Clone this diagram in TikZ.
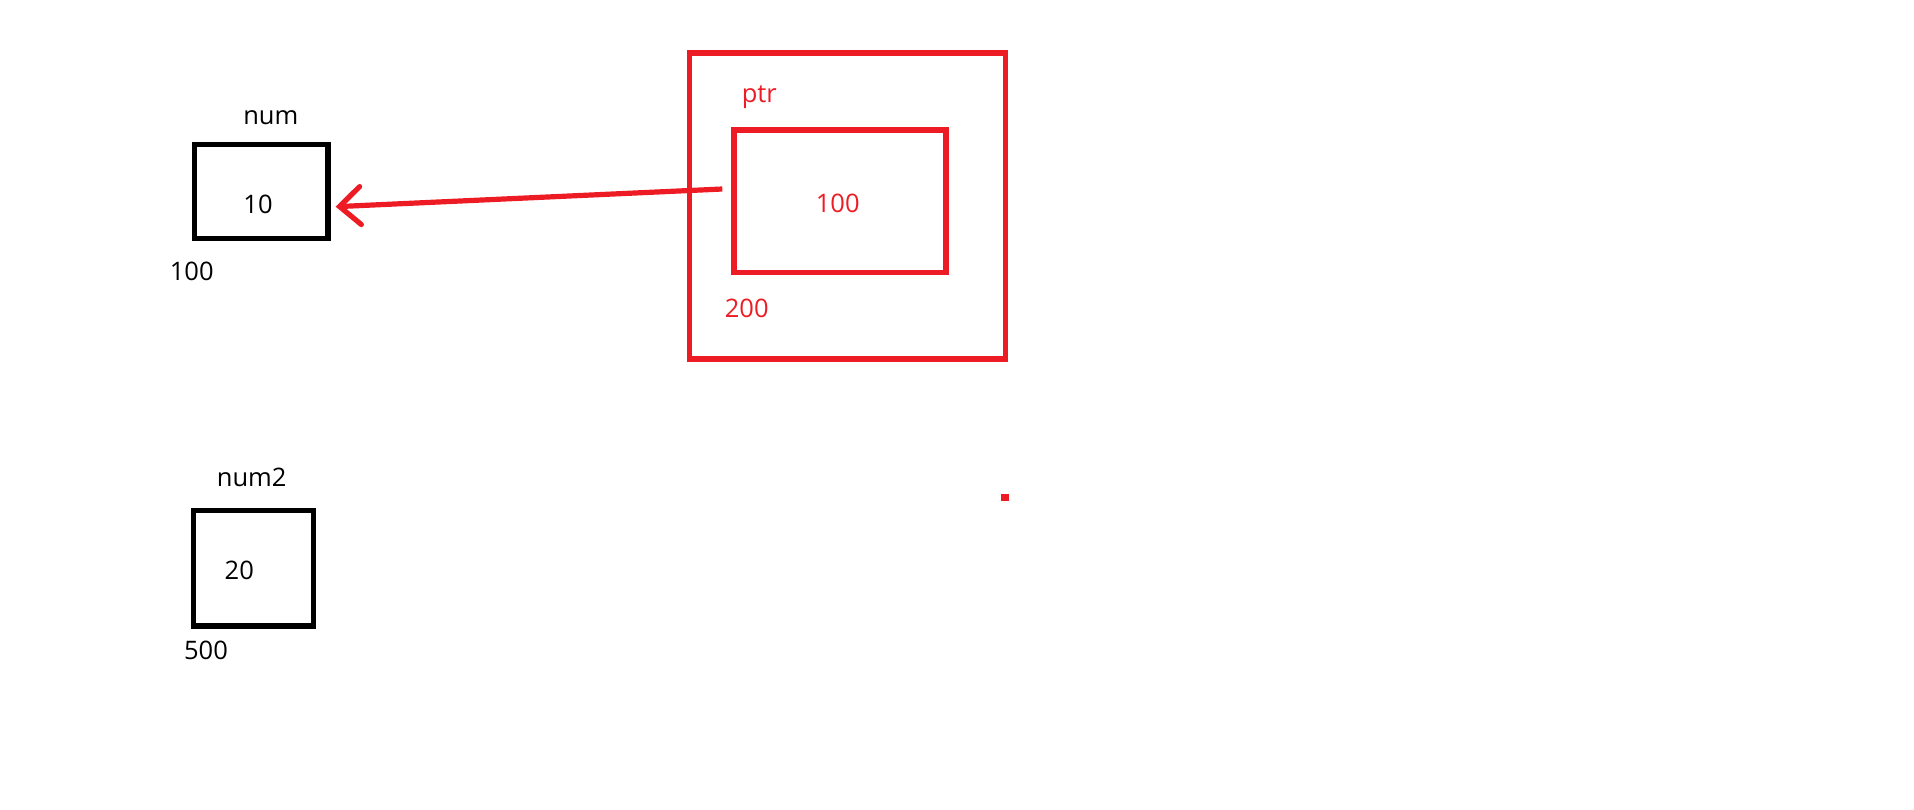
\documentclass[tikz,border=0pt]{standalone}
\usepackage{fontspec}
\setmainfont{Open Sans}
\usepackage{xcolor}
\usetikzlibrary{arrows.meta}

\definecolor{paintred}{HTML}{ED1C24}

\tikzset{
  cell/.style={draw,line width=5.2pt,minimum width=#1,inner sep=0pt},
  txt/.style={anchor=base,inner sep=0pt,font=\fontsize{25.5}{30}\selectfont},
  redtxt/.style={txt,text=paintred},
  ptrline/.style={draw=paintred,line width=5.2pt}
}

\begin{document}
\begin{tikzpicture}[x=1pt,y=-1pt]
        \useasboundingbox (0,0) rectangle (1914,809);

        % variable num
        \node[cell=133.3pt,minimum height=94pt] (num) at (261.4,191.7) {};
        \node[txt] (numname) at (270.8,124.3) {num};
        \node[txt] (numval) at (258,213.3) {10};
        \node[txt] (numaddr) at (191.7,280) {100};

        % variable num2
        \node[cell=119.6pt,minimum height=115.3pt] (num2) at (253.5,568.3) {};
        \node[txt] (num2name) at (251.7,486.7) {num2};
        \node[txt] (num2val) at (239.3,579) {20};
        \node[txt] (num2addr) at (206,659.3) {500};

        % pointer ptr
        \node[cell=316pt,minimum height=306pt,draw=paintred] (ptr) at (847.7,206) {};
        \node[cell=212pt,minimum height=142.5pt,draw=paintred] (ptrval) at (840,201.2) {};
        \node[redtxt] (ptrname) at (759.3,102.7) {ptr};
        \node[redtxt] (ptrnum) at (837.7,212.7) {100};
        \node[redtxt] (ptraddr) at (746.7,317.7) {200};

        % arrow
        \coordinate (tail) at (722.3,189);
        \draw[ptrline,-{Straight Barb[length=21pt,width=38pt,line cap=round]}] (tail) -- ([shift={(5,15)}]num.east);

        % dot
        \fill[paintred] (1001,494) rectangle (1009,501);
    \end{tikzpicture}
\end{document}
